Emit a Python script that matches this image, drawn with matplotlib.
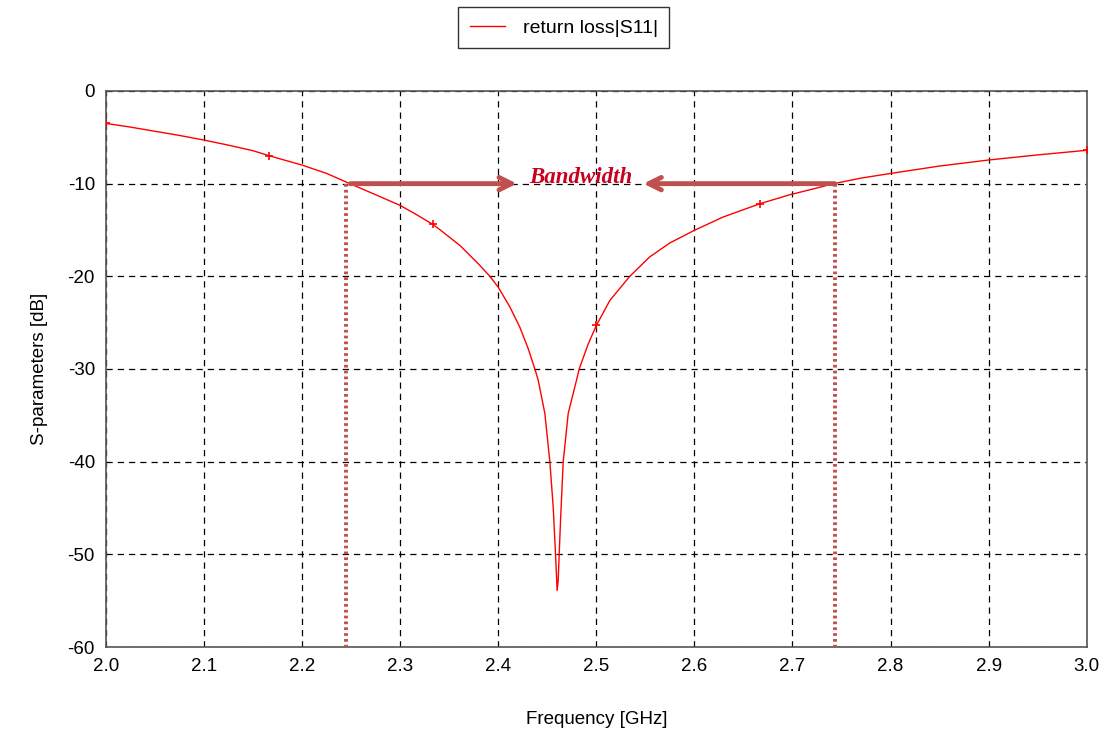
import matplotlib
matplotlib.use("Agg")
import matplotlib.pyplot as plt
import numpy as np

# Curve (frequency in GHz, |S11| in dB)
freq = [2.000, 2.025, 2.050, 2.075, 2.100, 2.125, 2.150, 2.1667, 2.200, 2.225,
        2.2487, 2.275, 2.300, 2.3167, 2.3333, 2.3405, 2.3609, 2.3812, 2.3914,
        2.3999, 2.4118, 2.4220, 2.4305, 2.4373, 2.4407, 2.4475, 2.4526, 2.4560,
        2.4584, 2.4600, 2.4611, 2.4621, 2.4635, 2.4662, 2.4713, 2.4798, 2.4825,
        2.4917, 2.5000, 2.5138, 2.5341, 2.5545, 2.5749, 2.5997, 2.6293, 2.6667,
        2.6972, 2.7200, 2.7420, 2.7700, 2.8000, 2.8500, 2.9000, 2.9500, 3.0000]
s11 = [-3.5, -3.9, -4.35, -4.8, -5.3, -5.85, -6.45, -7.0, -8.0, -8.9,
       -10.0, -11.2, -12.35, -13.35, -14.4, -14.97, -16.67, -18.82, -20.0,
       -21.16, -23.3, -25.5, -27.8, -30.0, -31.2, -34.8, -40.0, -44.9,
       -50.0, -53.9, -52.8, -50.0, -46.3, -40.0, -34.8, -31.2, -30.0,
       -27.3, -25.3, -22.6, -20.0, -17.9, -16.4, -15.05, -13.6, -12.17,
       -11.2, -10.6, -10.0, -9.4, -8.9, -8.1, -7.45, -6.9, -6.4]

marker_freq = [2.0, 2.1667, 2.3333, 2.5, 2.6667, 3.0]
marker_s11 = [-3.5, -7.0, -14.4, -25.3, -12.17, -6.4]

band_low = 2.2446
band_high = 2.743
band_level = -10
arrow_left_start = 2.249
arrow_left_head = 2.419
arrow_right_head = 2.548
band_label = "Bandwidth"
band_label_x = 2.484

xticks = [2.0, 2.1, 2.2, 2.3, 2.4, 2.5, 2.6, 2.7, 2.8, 2.9, 3.0]
yticks = [0, -10, -20, -30, -40, -50, -60]

plt.rcParams['font.family'] = ['Liberation Sans', 'DejaVu Sans']
plt.rcParams['axes.unicode_minus'] = False

fig = plt.figure(figsize=(11.1, 7.36), dpi=100)
ax = fig.add_axes([0.0955, 0.1209, 0.8835, 0.7555])

line, = ax.plot(freq, s11, color='#ff0000', lw=1.0, label='return loss|S11|', zorder=4)
ax.plot(marker_freq, marker_s11, ls='none', marker='+', color='#ff0000',
        ms=6, mew=1.2, zorder=5)

acol = '#c0504d'
# dotted verticals
for fx in (band_low, band_high):
    ax.plot([fx, fx], [band_level, -60], color=acol, lw=2.8,
            ls=(0, (0.7, 0.8)), dash_capstyle='butt', zorder=3, clip_on=False)
# arrows
ax.annotate('', xy=(arrow_left_head, band_level), xytext=(arrow_left_start, band_level),
            arrowprops=dict(arrowstyle='->,head_length=0.9,head_width=0.45',
                            color=acol, lw=3.5, shrinkA=0, shrinkB=0), zorder=6)
ax.annotate('', xy=(arrow_right_head, band_level), xytext=(band_high, band_level),
            arrowprops=dict(arrowstyle='->,head_length=0.9,head_width=0.45',
                            color=acol, lw=3.5, shrinkA=0, shrinkB=0), zorder=6)
ax.text(band_label_x, band_level + 0.1, band_label, family='Liberation Serif',
        style='italic', weight='bold', fontsize=16.5, color='#c8001e',
        ha='center', va='baseline', zorder=7)

ax.set_xlim(2.0, 3.0)
ax.set_ylim(-60, 0)
ax.set_xticks(xticks)
ax.set_xticklabels([f"{t:.1f}" for t in xticks])
ax.set_yticks(yticks)
ax.tick_params(length=0, labelsize=13.5, pad=8)
ax.grid(True, color='black', ls=(0, (5, 4)), lw=0.9)
for s in ax.spines.values():
    s.set_color('#555555')
    s.set_linewidth(1.2)

ax.set_xlabel('Frequency [GHz]', fontsize=13.5, labelpad=26)
ax.set_ylabel('S-parameters [dB]', fontsize=13.5, labelpad=14)

leg = fig.legend(handles=[line], loc='upper center', bbox_to_anchor=(0.508, 0.99),
                 fontsize=14, frameon=True, fancybox=False, edgecolor='black',
                 handlelength=1.8, handletextpad=0.9, borderpad=0.6,
                 borderaxespad=0)
leg.get_frame().set_linewidth(1.0)

fig.savefig('out.png', dpi=100)
